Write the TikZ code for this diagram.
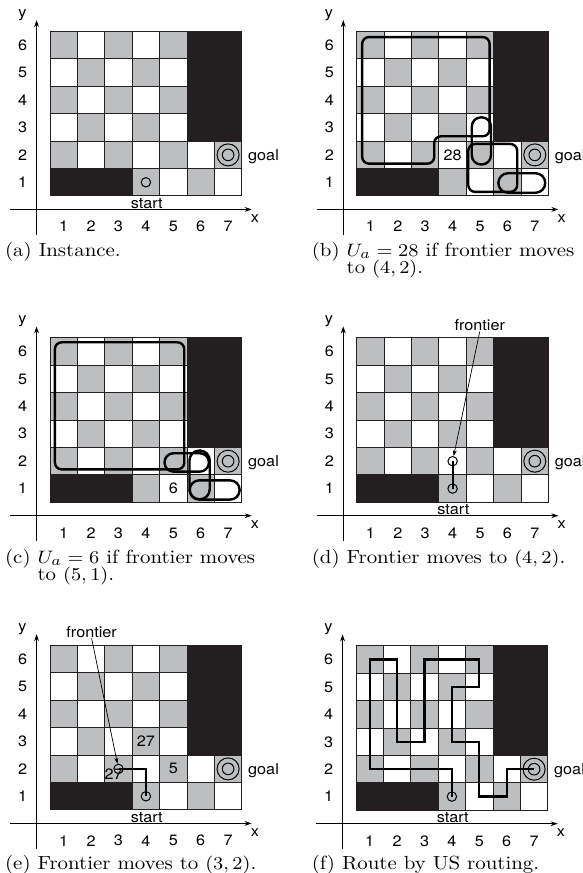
\documentclass[tikz,border=0pt]{standalone}
\usepackage{graphicx}
\usepackage{fontspec}
\newfontfamily\labfont{TeX Gyre Heros}
\usetikzlibrary{arrows.meta}
\definecolor{cellgray}{RGB}{188,190,192}
\definecolor{cellblack}{RGB}{35,31,32}
\tikzset{
  gridline/.style={draw=cellblack, line width=0.5pt},
  axisline/.style={line width=0.5pt, -{Stealth[length=3.5pt,width=2.4pt]}},
  lab/.style={inner sep=0pt, font=\labfont\fontsize{7.5}{9}\selectfont},
  captext/.style={inner sep=0pt, anchor=base west, font=\fontsize{9.5}{8.8}\selectfont},
  route/.style={line width=1.1pt, line join=miter},
  loopline/.style={line width=1.2pt, draw=black},
  smallc/.style={circle, draw, line width=0.5pt, minimum size=4.7pt, inner sep=0pt},
  goalo/.style={circle, draw, line width=0.5pt, minimum size=11pt, inner sep=0pt},
  goali/.style={circle, draw, line width=0.5pt, minimum size=5.8pt, inner sep=0pt},
  pointer/.style={line width=0.35pt, -{Stealth[length=3pt,width=2pt]}},
}
\newcommand\labtext[1]{\scalebox{1.08}[1]{#1}}
\newcommand\capbox[1]{\scalebox{1.1}[1]{\renewcommand\arraystretch{0.95}\begin{tabular}[t]{@{}l@{}}#1\end{tabular}}}
\newcommand\gridbase[1]{%
  \foreach \i in {0,...,6}{\foreach \j in {0,...,5}{%
    \pgfmathtruncatemacro\cellpar{mod(\i+\j,2)}%
    \ifnum\cellpar=1 \fill[cellgray] (\i,\j) rectangle ++(1,1);\fi}}
  \foreach \i in {1,...,6}{\draw[gridline] (\i,0) -- (\i,6);}
  \foreach \j in {1,...,5}{\draw[gridline] (0,\j) -- (7,\j);}
  \fill[cellblack] (5,2) rectangle (7,6);
  \fill[cellblack] (0,0) rectangle (3,1);
  \draw[gridline] (0,0) rectangle (7,6);
  \coordinate (#1-xs) at (-1.46,-0.49);
  \coordinate (#1-xe) at (7.36,-0.49);
  \coordinate (#1-ys) at (-0.49,-1.42);
  \coordinate (#1-ye) at (-0.49,6.42);
  \draw[axisline] (#1-xs) -- (#1-xe);
  \draw[axisline] (#1-ys) -- (#1-ye);
  \foreach \i in {1,...,7}{\node[lab] (#1-cx\i) at (\i-0.5,-1.12) {\labtext{\i}};}
  \foreach \j in {1,...,6}{\node[lab] (#1-ry\j) at (-1.0,\j-0.5) {\labtext{\j}};}
  \node[lab] (#1-xl) at (7.48,-0.82) {\labtext{x}};
  \node[lab] (#1-yl) at (-1.01,6.6) {\labtext{y}};
  \node[goalo] (#1-go) at (6.5,1.5) {};
  \node[goali] (#1-gi) at (6.5,1.5) {};
  \node[lab, anchor=base west] (#1-goal) at (7.22,1.29) {\labtext{goal}};
}
\newcommand\startlabel[1]{\node[lab] (#1-start) at (3.53,-0.28) {\labtext{start}};}
\begin{document}
\begin{tikzpicture}
\useasboundingbox (0,0) rectangle (291.5pt,436.5pt);
% (a)
\begin{scope}[shift={(25pt,338.5pt)}, x=13.7pt, y=13.7pt]
  \gridbase{a}
  \startlabel{a}
  \node[smallc] (a-s) at (3.5,0.5) {};
\end{scope}
% (b)
\begin{scope}[shift={(178.35pt,338.5pt)}, x=13.7pt, y=13.7pt]
  \gridbase{b}
  \node[lab] (b-n28) at (3.5,1.5) {\labtext{28}};
  \draw[loopline, rounded corners=3.4pt] (0.2,3) -- (0.2,1.18) -- (2.83,1.18) -- (2.83,2.18) -- (4.85,2.18) -- (4.85,5.8) -- (0.2,5.8) -- cycle;
  \draw[loopline, rounded corners=4.6pt] (4.2,1.15) rectangle (4.9,2.87);
  \draw[loopline, rounded corners=3.5pt] (4.07,0.15) rectangle (5.86,1.9);
  \draw[loopline, rounded corners=4.8pt] (5.17,0.12) rectangle (6.88,0.83);
\end{scope}
% (c)
\begin{scope}[shift={(25pt,185.35pt)}, x=13.7pt, y=13.7pt]
  \gridbase{c}
  \node[lab] (c-n6) at (4.5,0.5) {\labtext{6}};
  \draw[loopline, rounded corners=3.4pt] (0.18,1.2) rectangle (4.9,5.84);
  \draw[loopline, rounded corners=4.5pt] (4.18,1.12) rectangle (5.8,1.79);
  \draw[loopline, rounded corners=5pt] (5.09,0.11) rectangle (5.83,1.89);
  \draw[loopline, rounded corners=4.7pt] (5.1,0.1) rectangle (6.92,0.8);
\end{scope}
% (d)
\begin{scope}[shift={(178.35pt,185.35pt)}, x=13.7pt, y=13.7pt]
  \gridbase{d}
  \startlabel{d}
  \node[smallc] (d-s) at (3.5,0.5) {};
  \node[smallc] (d-f) at (3.5,1.5) {};
  \draw[route] (d-s.center) -- (d-f.center);
  \node[lab] (d-front) at (4.49,6.45) {\labtext{frontier}};
  \draw[pointer] (d-front.south) -- (d-f);
\end{scope}
% (e)
\begin{scope}[shift={(25pt,31.5pt)}, x=13.7pt, y=13.7pt]
  \gridbase{e}
  \startlabel{e}
  \node[smallc] (e-s) at (3.5,0.5) {};
  \node[smallc] (e-f) at (2.5,1.5) {};
  \draw[route] (e-s.center) |- (e-f.center);
  \node[lab] (e-n27a) at (2.32,1.3) {\labtext{27}};
  \node[lab] (e-n27b) at (3.5,2.5) {\labtext{27}};
  \node[lab] (e-n5) at (4.5,1.5) {\labtext{5}};
  \node[lab] (e-front) at (1.52,6.48) {\labtext{frontier}};
  \draw[pointer] (e-front.south) -- (e-f);
\end{scope}
% (f)
\begin{scope}[shift={(178pt,31.35pt)}, x=13.7pt, y=13.7pt]
  \gridbase{f}
  \startlabel{f}
  \node[smallc] (f-s) at (3.5,0.5) {};
  \draw[route] (f-s.center) -- (3.5,1.5) -- (0.5,1.5) -- (0.5,5.5) -- (1.5,5.5) -- (1.5,2.5) -- (2.5,2.5) -- (2.5,5.5) -- (4.5,5.5) -- (4.5,4.5) -- (3.5,4.5) -- (3.5,2.5) -- (4.5,2.5) -- (4.5,0.5) -- (5.5,0.5) -- (5.5,1.5) -- (f-gi.center);
\end{scope}
% captions
\node[captext] (capa) at (2.35pt,308.25pt) {\capbox{(a) Instance.}};
\node[captext] (capb) at (155.7pt,308.25pt) {\capbox{(b) $U_a = 28$ if frontier moves\\[-0.8pt]\hphantom{(b) }to $(4, 2)$.}};
\node[captext] (capc) at (2.35pt,154.75pt) {\capbox{(c) $U_a = 6$ if frontier moves\\[-0.8pt]\hphantom{(c) }to $(5, 1)$.}};
\node[captext] (capd) at (155.7pt,154.75pt) {\capbox{(d) Frontier moves to $(4, 2)$.}};
\node[captext] (cape) at (2.35pt,1.75pt) {\capbox{(e) Frontier moves to $(3, 2)$.}};
\node[captext] (capf) at (155.7pt,1.75pt) {\capbox{(f) Route by US routing.}};
\end{tikzpicture}
\end{document}
